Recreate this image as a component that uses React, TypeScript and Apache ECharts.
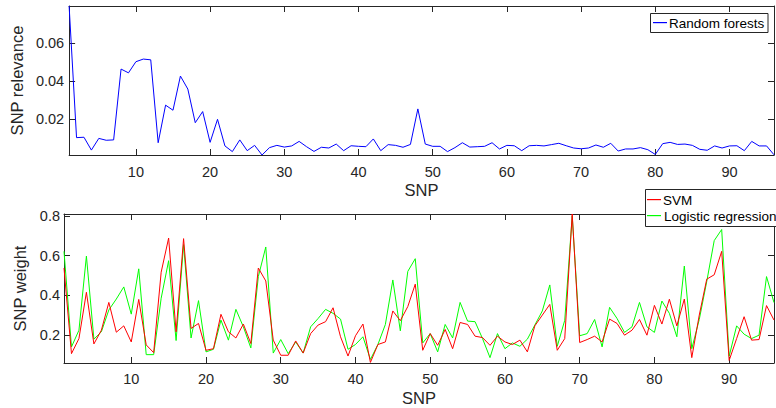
import React, { useEffect, useRef } from "react";
import * as echarts from "echarts";

const snpIds: number[] = Array.from({ length: 96 }, (_, i) => i + 1);
const xTicks = [10, 20, 30, 40, 50, 60, 70, 80, 90];
const relTicks = [0.02, 0.04, 0.06];
const weightTicks = [0.2, 0.4, 0.6, 0.8];

const randomForests = [
  0.0798, 0.0101, 0.0103, 0.0035, 0.0097, 0.0087, 0.0089, 0.0464, 0.0444, 0.0503,
  0.0517, 0.0513, 0.0074, 0.0273, 0.0246, 0.0427, 0.0358, 0.018, 0.0239, 0.0076,
  0.0198, 0.0057, 0.0027, 0.0089, 0.0032, 0.006, 0.0009, 0.0048, 0.006, 0.0051,
  0.0057, 0.0081, 0.0053, 0.0028, 0.005, 0.0046, 0.0067, 0.0032, 0.0058, 0.0055,
  0.0053, 0.0094, 0.0032, 0.0064, 0.006, 0.005, 0.0065, 0.0253, 0.0067, 0.0055,
  0.0055, 0.0027, 0.0048, 0.0074, 0.0051, 0.0053, 0.0055, 0.0074, 0.0041, 0.006,
  0.0058, 0.0032, 0.0058, 0.006, 0.0057, 0.0064, 0.0071, 0.0058, 0.0046, 0.0042,
  0.0046, 0.0062, 0.005, 0.0071, 0.003, 0.0041, 0.0041, 0.0048, 0.0037, 0.0012,
  0.0069, 0.0076, 0.0065, 0.0067, 0.006, 0.0039, 0.0034, 0.0057, 0.0046, 0.0057,
  0.0058, 0.0032, 0.0081, 0.0057, 0.0057, 0.001,
];

const svm = [
  0.538, 0.107, 0.183, 0.416, 0.156, 0.225, 0.365, 0.215, 0.247, 0.166,
  0.38, 0.151, 0.112, 0.517, 0.689, 0.217, 0.686, 0.234, 0.259, 0.124,
  0.132, 0.305, 0.217, 0.186, 0.256, 0.158, 0.538, 0.473, 0.175, 0.099,
  0.099, 0.171, 0.11, 0.208, 0.251, 0.268, 0.338, 0.192, 0.095, 0.197,
  0.256, 0.063, 0.153, 0.166, 0.322, 0.273, 0.344, 0.457, 0.124, 0.208,
  0.149, 0.229, 0.132, 0.264, 0.254, 0.195, 0.188, 0.149, 0.195, 0.166,
  0.153, 0.175, 0.116, 0.247, 0.301, 0.355, 0.124, 0.183, 0.81, 0.163,
  0.178, 0.195, 0.166, 0.281, 0.259, 0.2, 0.225, 0.279, 0.2, 0.35,
  0.256, 0.381, 0.247, 0.382, 0.087, 0.301, 0.482, 0.504, 0.622, 0.073,
  0.183, 0.293, 0.175, 0.178, 0.349, 0.276,
];

const logisticRegression = [
  0.622, 0.141, 0.225, 0.598, 0.18, 0.217, 0.327, 0.382, 0.443, 0.306,
  0.534, 0.102, 0.102, 0.386, 0.575, 0.173, 0.656, 0.186, 0.374, 0.116,
  0.129, 0.276, 0.175, 0.33, 0.242, 0.136, 0.495, 0.644, 0.11, 0.178,
  0.107, 0.166, 0.11, 0.242, 0.284, 0.33, 0.31, 0.281, 0.129, 0.153,
  0.192, 0.078, 0.153, 0.254, 0.478, 0.222, 0.521, 0.585, 0.161, 0.208,
  0.116, 0.254, 0.186, 0.365, 0.271, 0.268, 0.183, 0.087, 0.208, 0.132,
  0.161, 0.144, 0.18, 0.251, 0.322, 0.453, 0.144, 0.275, 0.8, 0.197,
  0.208, 0.279, 0.141, 0.34, 0.284, 0.214, 0.242, 0.365, 0.242, 0.214,
  0.372, 0.31, 0.192, 0.548, 0.132, 0.279, 0.47, 0.676, 0.732, 0.094,
  0.247, 0.205, 0.183, 0.2, 0.495, 0.364,
];

const AXIS = "#262626";
const FONT = "'Liberation Sans', Arial, Helvetica, sans-serif";

function xPair(gridIndex: number, labelMargin: number) {
  const base = {
    gridIndex,
    type: "value" as const,
    min: 1,
    max: 96,
    splitLine: { show: false },
    axisLine: { show: true, onZero: false, lineStyle: { color: AXIS, width: 1 } },
  };
  return [
    {
      ...base,
      position: "bottom",
      axisTick: { show: true, inside: true, length: 6, customValues: xTicks, lineStyle: { color: AXIS } },
      axisLabel: { show: true, customValues: xTicks, margin: labelMargin, fontSize: 14.5, color: AXIS, fontFamily: FONT },
      name: "SNP",
      nameLocation: "middle",
      nameGap: 26,
      nameTextStyle: { fontSize: 16.5, color: AXIS, fontFamily: FONT },
    },
    {
      ...base,
      position: "top",
      axisTick: { show: true, inside: true, length: 6, customValues: xTicks, lineStyle: { color: AXIS } },
      axisLabel: { show: false },
    },
  ];
}

function yPair(gridIndex: number, min: number, max: number, ticks: number[], name: string, nameGap: number, labelMargin: number) {
  const base = {
    gridIndex,
    type: "value" as const,
    min,
    max,
    splitLine: { show: false },
    axisLine: { show: true, onZero: false, lineStyle: { color: AXIS, width: 1 } },
  };
  return [
    {
      ...base,
      position: "left",
      axisTick: { show: true, inside: true, length: 6, customValues: ticks, lineStyle: { color: AXIS } },
      axisLabel: { show: true, customValues: ticks, margin: labelMargin, fontSize: 14.5, color: AXIS, fontFamily: FONT },
      name,
      nameLocation: "middle",
      nameGap,
      nameTextStyle: { fontSize: 16.5, color: AXIS, fontFamily: FONT },
    },
    {
      ...base,
      position: "right",
      axisTick: { show: true, inside: true, length: 6, customValues: ticks, lineStyle: { color: AXIS } },
      axisLabel: { show: false },
    },
  ];
}

export default function App() {
  const ref = useRef<HTMLDivElement>(null);

  useEffect(() => {
    if (!ref.current) return;
    const chart = echarts.init(ref.current, undefined, { renderer: "svg" });

    const option = {
      animation: false,
      backgroundColor: "#ffffff",
      grid: [
        { left: 64, top: 6, width: 710, height: 149 },
        { left: 64, top: 214, width: 710, height: 149 },
      ],
      xAxis: [...xPair(0, 9), ...xPair(1, 8)],
      yAxis: [
        ...yPair(0, 0.0009, 0.0798, relTicks, "SNP relevance", 37, 5),
        ...yPair(1, 0.06, 0.81, weightTicks, "SNP weight", 29, 4),
      ],
      series: [
        {
          name: "Random forests",
          type: "line",
          xAxisIndex: 0,
          yAxisIndex: 0,
          symbol: "none",
          data: snpIds.map((x, i) => [x, randomForests[i]]),
          lineStyle: { color: "#0000ff", width: 1 },
          itemStyle: { color: "#0000ff" },
        },
        {
          name: "Logistic regression",
          type: "line",
          xAxisIndex: 2,
          yAxisIndex: 2,
          symbol: "none",
          data: snpIds.map((x, i) => [x, logisticRegression[i]]),
          lineStyle: { color: "#00ff00", width: 1 },
          itemStyle: { color: "#00ff00" },
        },
        {
          name: "SVM",
          type: "line",
          xAxisIndex: 2,
          yAxisIndex: 2,
          symbol: "none",
          data: snpIds.map((x, i) => [x, svm[i]]),
          lineStyle: { color: "#ff0000", width: 1 },
          itemStyle: { color: "#ff0000" },
        },
      ],
      graphic: [
        {
          type: "rect",
          z: 100,
          shape: { x: 650.5, y: 13.5, width: 117.5, height: 19 },
          style: { fill: "#ffffff", stroke: AXIS, lineWidth: 1 },
        },
        {
          type: "rect",
          z: 101,
          shape: { x: 653, y: 22, width: 14, height: 1.2 },
          style: { fill: "#0000ff" },
        },
        {
          type: "text",
          z: 101,
          x: 669,
          y: 23,
          style: { text: "Random forests", fontSize: 13.5, fontFamily: FONT, fill: "#000000", verticalAlign: "middle" },
        },
        {
          type: "rect",
          z: 100,
          shape: { x: 645.5, y: 189.5, width: 140, height: 37 },
          style: { fill: "#ffffff", stroke: AXIS, lineWidth: 1 },
        },
        {
          type: "rect",
          z: 101,
          shape: { x: 647, y: 199, width: 14, height: 1.2 },
          style: { fill: "#ff0000" },
        },
        {
          type: "text",
          z: 101,
          x: 663,
          y: 200,
          style: { text: "SVM", fontSize: 13.5, fontFamily: FONT, fill: "#000000", verticalAlign: "middle" },
        },
        {
          type: "rect",
          z: 101,
          shape: { x: 647, y: 215, width: 14, height: 1.2 },
          style: { fill: "#00ff00" },
        },
        {
          type: "text",
          z: 101,
          x: 664,
          y: 216,
          style: { text: "Logistic regression", fontSize: 13.5, fontFamily: FONT, fill: "#000000", verticalAlign: "middle" },
        },
      ],
    };

    chart.setOption(option as any);
    return () => chart.dispose();
  }, []);

  return (
    <div
      ref={ref}
      style={{ position: "fixed", left: 0, top: 0, width: 776, height: 408, background: "#fff" }}
    />
  );
}
